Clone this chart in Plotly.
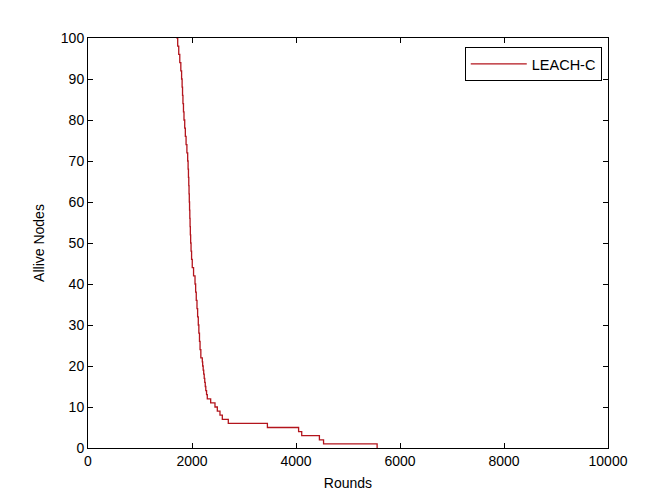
import plotly.graph_objects as go

rounds = [1700, 1725, 1745, 1765, 1785, 1800, 1810, 1818, 1826, 1836, 1846, 1860,
          1872, 1886, 1902, 1917, 1925, 1932, 1938, 1943, 1948, 1953, 1958, 1963,
          1968, 1974, 1982, 1992, 2005, 2030, 2058, 2070, 2082, 2096, 2108, 2121,
          2132, 2144, 2155, 2170, 2198, 2205, 2215, 2225, 2235, 2245, 2255, 2265,
          2280, 2294, 2359, 2442, 2487, 2538, 2583, 2698, 3450, 4050, 4110, 4450,
          4530, 5560]
alive = [100, 98, 96, 94, 92, 90, 88, 86, 84, 82, 80, 78,
         76, 74, 72, 70, 68, 66, 64, 62, 60, 58, 56, 54,
         52, 50, 48, 46, 44, 42, 40, 38, 36, 34, 32, 30,
         28, 26, 24, 22, 21, 20, 19, 18, 17, 16, 15, 14,
         13, 12, 11, 10, 9, 8, 7, 6, 5, 4, 3, 2,
         1, 0]

x_ticks = [0, 2000, 4000, 6000, 8000, 10000]
x_tick_labels = ["0", "2000", "4000", "6000", "8000", "10000"]
y_ticks = [0, 10, 20, 30, 40, 50, 60, 70, 80, 90, 100]

FONT = "Liberation Sans, Arial"

fig = go.Figure()
fig.add_trace(go.Scatter(x=rounds, y=alive, mode="lines", line_shape="hv",
                         line=dict(color="#b3141c", width=1.3), name="LEACH-C"))

axis_common = dict(showline=True, linecolor="black", linewidth=1, mirror="allticks",
                   ticks="inside", ticklen=5, tickcolor="black", showgrid=False,
                   zeroline=False, tickfont=dict(family=FONT, size=14, color="black"))

fig.update_layout(
    width=672, height=504,
    margin=dict(l=80, r=72, t=30, b=64),
    paper_bgcolor="white", plot_bgcolor="white",
    xaxis=dict(range=[0, 10000], tickvals=x_ticks, ticktext=x_tick_labels,
               title=dict(text="Rounds", standoff=10, font=dict(family=FONT, size=14, color="black")),
               **axis_common),
    yaxis=dict(range=[0, 100], tickvals=y_ticks,
               title=dict(text="Allive Nodes", standoff=12, font=dict(family=FONT, size=14, color="black")),
               **axis_common),
    showlegend=True,
    legend=dict(x=0.988, y=0.978, xanchor="right", yanchor="top", bordercolor="black", borderwidth=1,
                bgcolor="white", itemwidth=56,
                font=dict(family=FONT, size=14.5, color="black")),
)

fig.write_html("out.html")
